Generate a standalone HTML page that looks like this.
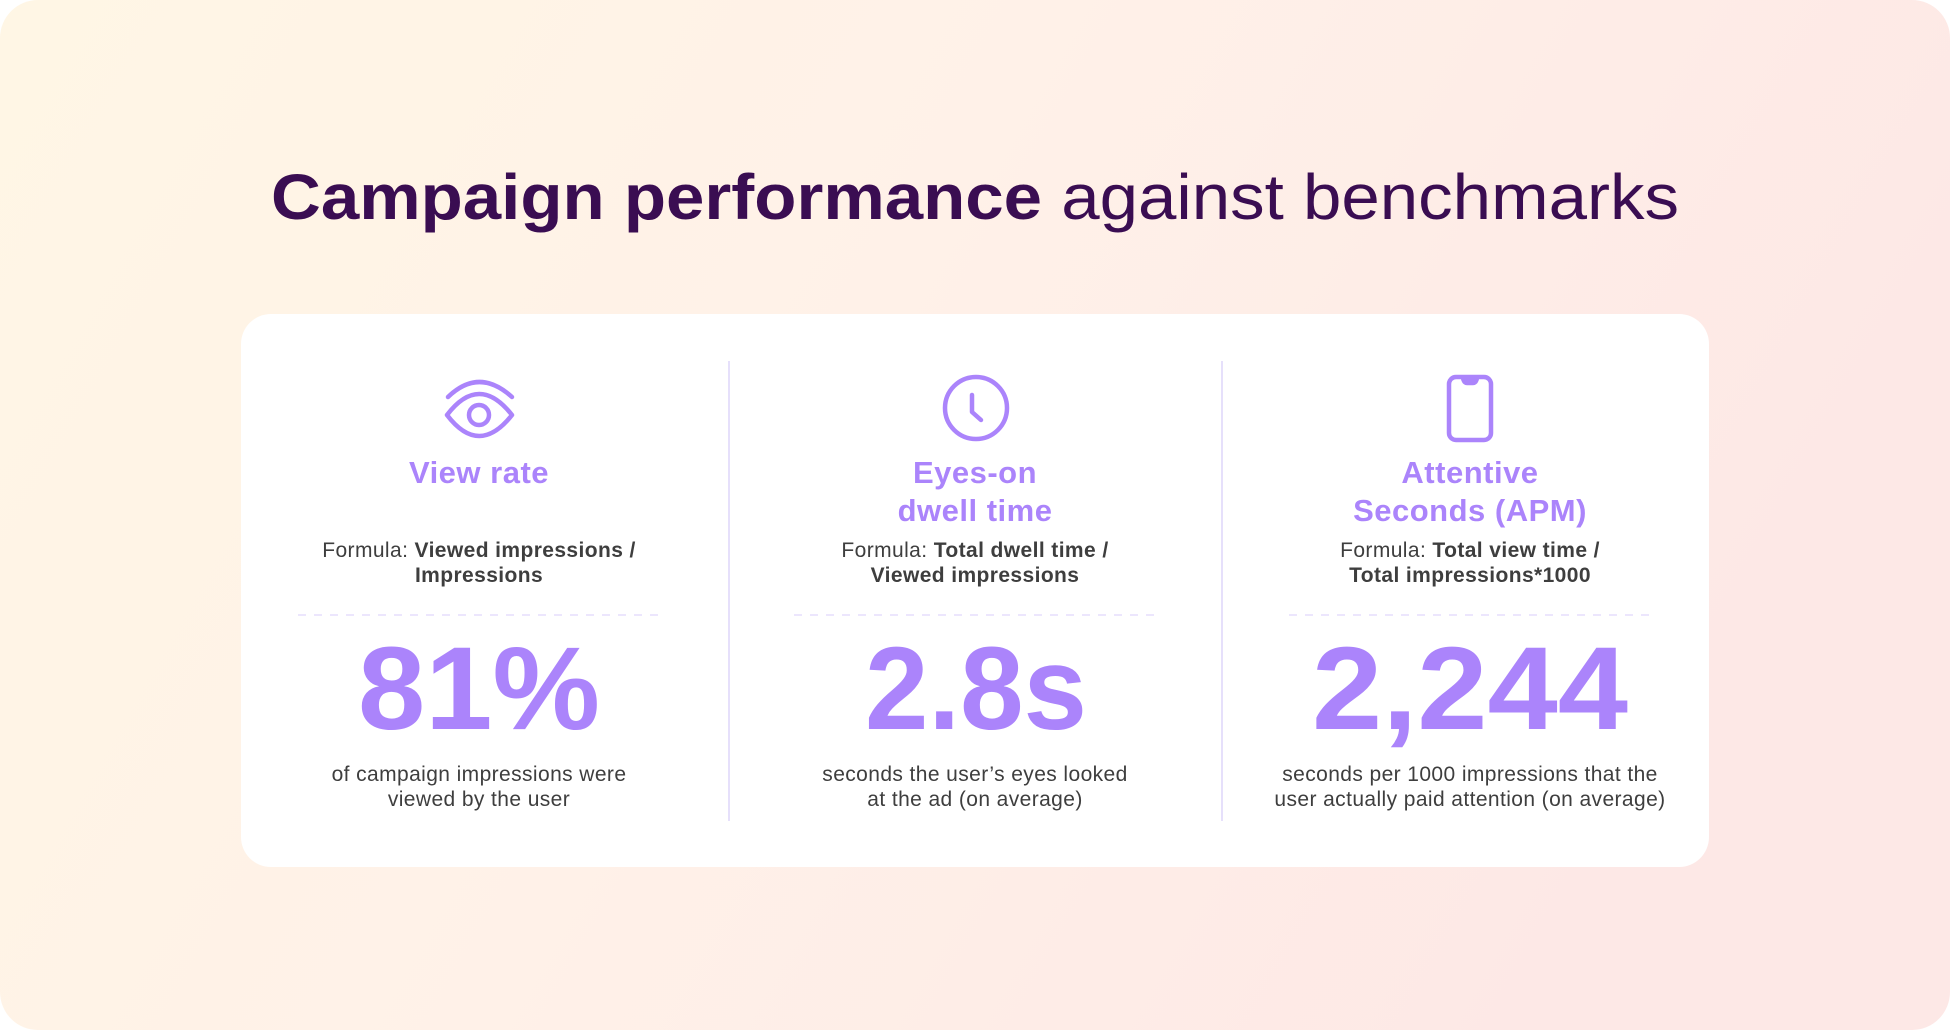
<!DOCTYPE html>
<html><head><meta charset="utf-8"><style>
html,body{margin:0;padding:0;background:#fff;}
svg{display:block;}
text{font-family:"Liberation Sans","DejaVu Sans",sans-serif;}
</style></head><body>
<svg width="1950" height="1030" viewBox="0 0 1950 1030" xmlns="http://www.w3.org/2000/svg">
<defs>
<linearGradient id="bg" x1="0" y1="0" x2="1" y2="0.3">
<stop offset="0" stop-color="#fff6e5"/>
<stop offset="0.5" stop-color="#fff1e8"/>
<stop offset="1" stop-color="#fde8e6"/>
</linearGradient>
</defs>
<rect x="0" y="0" width="1950" height="1030" rx="38" fill="url(#bg)"/>
<text x="271" y="219" font-size="64" fill="#3a0d52" textLength="1408" lengthAdjust="spacingAndGlyphs"><tspan font-weight="bold">Campaign performance</tspan><tspan font-weight="normal"> against benchmarks</tspan></text>
<rect x="241" y="314" width="1468" height="553" rx="30" fill="#ffffff"/>
<line x1="729" y1="361" x2="729" y2="821" stroke="#e6e0fb" stroke-width="2"/>
<line x1="1222" y1="361" x2="1222" y2="821" stroke="#e6e0fb" stroke-width="2"/>
<g stroke="#ece6fd" stroke-width="2" stroke-dasharray="8 8">
<line x1="298" y1="615" x2="661" y2="615"/>
<line x1="794" y1="615" x2="1157" y2="615"/>
<line x1="1289" y1="615" x2="1652" y2="615"/>
</g>
<g fill="none" stroke="#ab84fb" stroke-width="4.5" stroke-linecap="round" stroke-linejoin="round">
<path d="M448 397 Q479 367 512 397"/>
<path d="M447 415 Q479 373 512 415 Q479 457 447 415 Z"/>
<circle cx="479" cy="415" r="10"/>
<circle cx="976" cy="408" r="31"/>
<path d="M972 395 V412 L981 420"/>
<rect x="1449" y="377" width="42" height="63" rx="7"/>
<path d="M1463 378 Q1464 383 1467 383 H1473 Q1476 383 1477 378" fill="#ab84fb"/>
</g>
<g font-weight="bold" fill="#ab84fb" font-size="31" letter-spacing="0.5" text-anchor="middle">
<text x="479" y="483">View rate</text>
<text x="975" y="483">Eyes-on</text>
<text x="975" y="521">dwell time</text>
<text x="1470" y="483">Attentive</text>
<text x="1470" y="521">Seconds (APM)</text>
</g>
<g font-size="21" letter-spacing="0.4" fill="#3e3e3e" text-anchor="middle">
<text x="479" y="557">Formula: <tspan font-weight="bold">Viewed impressions /</tspan></text>
<text x="479" y="582" font-weight="bold">Impressions</text>
<text x="975" y="557">Formula: <tspan font-weight="bold">Total dwell time /</tspan></text>
<text x="975" y="582" font-weight="bold">Viewed impressions</text>
<text x="1470" y="557">Formula: <tspan font-weight="bold">Total view time /</tspan></text>
<text x="1470" y="582" font-weight="bold">Total impressions*1000</text>
<text x="479" y="781">of campaign impressions were</text>
<text x="479" y="806">viewed by the user</text>
<text x="975" y="781">seconds the user’s eyes looked</text>
<text x="975" y="806">at the ad (on average)</text>
<text x="1470" y="781">seconds per 1000 impressions that the</text>
<text x="1470" y="806">user actually paid attention (on average)</text>
</g>
<g font-weight="bold" fill="#ab84fb" font-size="118">
<text x="358" y="729" textLength="242" lengthAdjust="spacingAndGlyphs">81%</text>
<text x="865" y="729" textLength="222" lengthAdjust="spacingAndGlyphs">2.8s</text>
<text x="1312" y="729" textLength="316" lengthAdjust="spacingAndGlyphs">2,244</text>
</g>
</svg>
</body></html>
